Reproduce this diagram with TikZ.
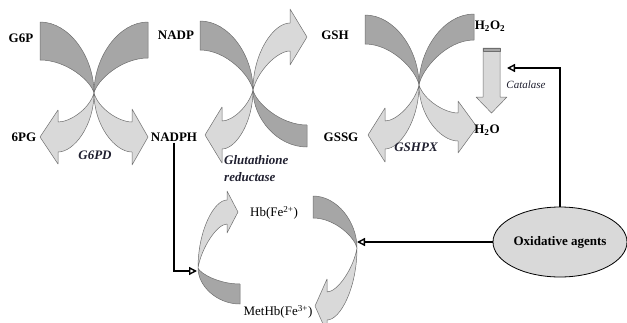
\documentclass[tikz,border=0pt]{standalone}
\usepackage{fontspec}
\setmainfont{Liberation Serif}
\usetikzlibrary{shapes.geometric,arrows.meta}
\definecolor{darkg}{HTML}{A6A6A6}
\definecolor{lightg}{HTML}{D9D9D9}
\definecolor{edgeg}{HTML}{6E6E6E}
\definecolor{labc}{HTML}{202030}
% #1 W flat-end distance, #2 T1 outer top, #3 T2 inner top,
% #4 tip distance, #5 tip y, #6 head length, #7 head half width, #8 shaft half width
\newcommand\halfarrow[8]{%
  \filldraw[bandD] (-#1,-#2) .. controls ({-0.45*#1},-#2) and (0,{-0.5*#2}) .. (0,0)
     .. controls ({-0.05*#1},{-0.35*#3}) and ({-0.5*#1},-#3) .. (-#1,-#3) -- cycle;
  \filldraw[bandL] (0,0) .. controls (0,{0.55*(#5+#8)}) and ({-#4+#6+0.45*(#4-#6)},{#5+#8}) .. ({-#4+#6},{#5+#8})
     -- ({-#4+#6},{#5+#7}) -- (-#4,#5) -- ({-#4+#6},{#5-#7}) -- ({-#4+#6},{#5-#8})
     .. controls ({-#4+#6+0.35*(#4-#6)},{#5-#8}) and ({-0.08*#4},{0.35*#5}) .. (0,0) -- cycle;
}
\begin{document}
\begin{tikzpicture}[x=1pt,y=-1pt,
  bandD/.style={fill=darkg,draw=edgeg,line width=0.5pt,line join=round},
  bandL/.style={fill=lightg,draw=edgeg,line width=0.5pt,line join=round},
  lab/.style={font=\fontsize{13}{15}\selectfont\bfseries,inner sep=1pt},
  enz/.style={font=\fontsize{13}{17}\selectfont\bfseries\itshape,text=labc,inner sep=1pt},
  catl/.style={font=\fontsize{11}{13}\selectfont\itshape,text=labc,inner sep=1pt},
  hb/.style={font=\fontsize{13}{15}\selectfont,inner sep=1pt},
  conn/.style={line width=1.6pt,-{Triangle[open,length=8pt,width=8pt,line width=1.4pt]}},
  oxst/.style={ellipse,fill=lightg,draw=black,line width=0.8pt,minimum width=134pt,minimum height=70pt,inner sep=0pt,font=\fontsize{13}{15}\selectfont\bfseries}]
\useasboundingbox (0,0) rectangle (627,322);
% X1
\begin{scope}[shift={(94,93)}]\halfarrow{54}{71}{33}{54}{44}{18}{27}{15}\end{scope}
\begin{scope}[shift={(94,93)},xscale=-1]\halfarrow{54}{71}{35}{54}{44}{16}{28}{15}\end{scope}
% X2
\begin{scope}[shift={(253,90)}]\halfarrow{53}{69}{40}{48}{45}{17}{28}{14}\end{scope}
\begin{scope}[shift={(253,90)},xscale=-1,yscale=-1]\halfarrow{54}{57}{35}{54}{53}{17}{28}{14}\end{scope}
% X3
\begin{scope}[shift={(419,85)}]\halfarrow{54}{70}{41}{51}{50}{17}{27}{14}\end{scope}
\begin{scope}[shift={(419,85)},xscale=-1]\halfarrow{55}{71}{45}{58}{42}{19}{26}{14}\end{scope}
% Hb cycle
\begin{scope}[shift={(198,268)},xscale=-1,yscale=-1]\halfarrow{42}{36}{16}{40}{56}{11}{21}{12}\end{scope}
\begin{scope}[shift={(357,248)}]\halfarrow{44}{52}{30}{42}{58}{12}{27}{14}\end{scope}
% catalase arrow
\filldraw[bandL] (483,48) -- (500,48) -- (500,97) -- (507,97) -- (491.5,113) -- (476,97) -- (483,97) -- cycle;
\filldraw[bandD] (483,48) rectangle (500,51);
% labels
\node[lab] (g6p) at (21,38) {G6P};
\node[lab] (pg6) at (24,137) {6PG};
\node[lab] (nadp) at (176,35) {NADP};
\node[lab] (nadph) at (174,137) {NADPH};
\node[lab] (gsh) at (335,35) {GSH};
\node[lab] (gssg) at (341,137) {GSSG};
\node[lab] (hoo) at (490,26) {H\textsubscript{2}O\textsubscript{2}};
\node[lab] (ho) at (487,130) {H\textsubscript{2}O};
\node[enz] (g6pd) at (95,155) {G6PD};
\node[enz] (gshpx) at (416,147) {GSHPX};
\node[enz,align=left,anchor=west] (gr) at (223,169) {Glutathione\\reductase};
\node[catl] (catalase) at (526,85) {Catalase};
\node[hb] (hb2) at (274,213) {Hb(Fe\textsuperscript{2+})};
\node[hb] (hb3) at (278,312) {MetHb(Fe\textsuperscript{3+})};
\node[oxst] (ox) at (560,242) {Oxidative agents};
% connector targets
\coordinate (hbL) at (197,271);
\coordinate (hbR) at (357,242);
\coordinate (catT) at (507,68);
\draw[conn] (nadph.south) |- (hbL);
\draw[conn] (ox.west) -- (hbR);
\draw[conn] (ox.north) |- (catT);
\end{tikzpicture}
\end{document}
